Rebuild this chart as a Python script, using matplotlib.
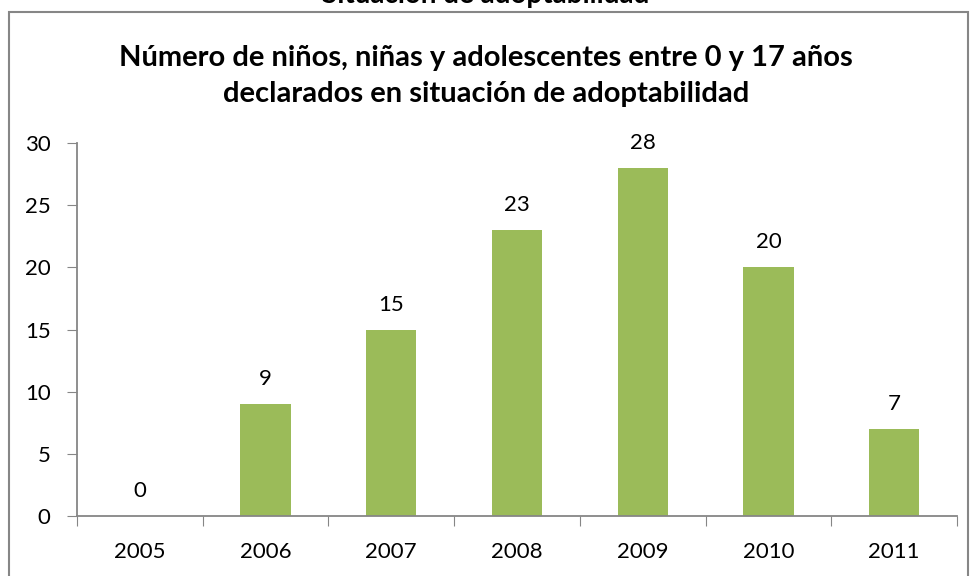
import matplotlib.pyplot as plt
from matplotlib.patches import Rectangle

years = ["2005", "2006", "2007", "2008", "2009", "2010", "2011"]
counts = [0, 9, 15, 23, 28, 20, 7]

plt.rcParams['font.family'] = ['Lato', 'DejaVu Sans']

fig = plt.figure(figsize=(9.72, 5.76), dpi=100)
ax = fig.add_axes([77/972, 1 - 516/576, (957-77)/972, (516-143)/576])

x = range(len(years))
bars = ax.bar(x, counts, width=0.4, color="#9BBB59")
for xi, v in zip(x, counts):
	ax.text(xi, v + 1.2, str(v), ha="center", va="bottom", fontsize=16)

ax.set_xlim(-0.5, len(years) - 0.5)
ax.set_ylim(0, 30)
ax.set_yticks(range(0, 31, 5))
ax.set_xticks([i - 0.5 for i in range(len(years) + 1)], minor=False)
ax.set_xticklabels([])
ax.set_xticks(list(x), minor=True)
ax.set_xticklabels(years, minor=True)
ax.tick_params(axis="x", which="major", length=7, color="#868686", direction="out")
ax.tick_params(axis="x", which="minor", length=0, labelsize=16, pad=19)
ax.tick_params(axis="y", length=7, color="#868686", labelsize=16, pad=12)
for s in ["top", "right"]:
	ax.spines[s].set_visible(False)
for s in ["left", "bottom"]:
	ax.spines[s].set_color("#868686")
	ax.spines[s].set_linewidth(1.3)

fig.text(0.5, 1 - 76/576, "Número de niños, niñas y adolescentes entre 0 y 17 años\ndeclarados en situación de adoptabilidad",
	ha="center", va="center", fontsize=21, fontweight="bold", linespacing=1.5)

# outer chart frame
fig.patches.append(Rectangle((9/972, -0.02), (968-9)/972, 1 - 12/576 + 0.02,
	transform=fig.transFigure, fill=False, edgecolor="#868686", linewidth=1.5))

# header above the frame, cut off at the top edge
fig.text(0.5, 1 + 5/576, "Situación de adoptabilidad", ha="center", va="center",
	fontsize=20, fontweight="bold")

fig.savefig("out.png", dpi=100)
